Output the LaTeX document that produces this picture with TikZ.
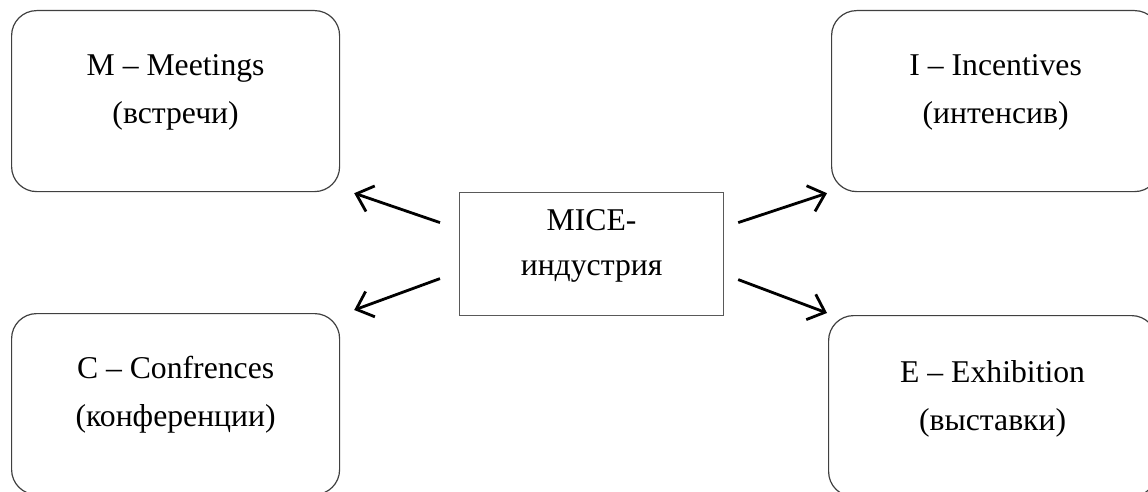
\documentclass[tikz,border=0pt]{standalone}
\usepackage{fontspec}
\setmainfont{Liberation Serif}
\usetikzlibrary{arrows.meta,calc}
\begin{document}
\begin{tikzpicture}[x=1pt,y=-1pt,
  rbox/.style={draw=black!75, line width=1.2pt, rounded corners=25pt, inner sep=0pt,
    minimum width=328pt, align=center, anchor=north west,
    font=\fontsize{31.7}{48}\selectfont},
  cbox/.style={draw=black!65, line width=1.2pt, inner sep=0pt,
    minimum width=264pt, align=center, anchor=north west,
    font=\fontsize{31.7}{45}\selectfont},
  arr/.style={line width=2.8pt, -{Straight Barb[length=15pt,width=27pt,line width=2.8pt]}}]
\useasboundingbox (0,0) rectangle (1148,492);
\clip (0,0) rectangle (1148,492);
\node[rbox] (m) at (11,10) {\rule{0pt}{65pt}M – Meetings\\(встречи)\rule[-68pt]{0pt}{68pt}};
\node[rbox] (i) at (831,10) {\rule{0pt}{65pt}I – Incentives\\(интенсив)\rule[-68pt]{0pt}{68pt}};
\node[rbox] (cf) at (11,313) {\rule{0pt}{65pt}C – Confrences\\(конференции)\rule[-68pt]{0pt}{68pt}};
\node[rbox] (e) at (828,315) {\rule{0pt}{67pt}E – Exhibition\\(выставки)\rule[-66pt]{0pt}{66pt}};
\node[cbox] (c) at (459,192) {\rule{0pt}{38pt}MICE-\\индустрия\rule[-40pt]{0pt}{40pt}};
\coordinate (t1) at ($(c.west)+(-19,-31.5)$);
\coordinate (t2) at ($(c.west)+(-19,24.5)$);
\coordinate (t3) at ($(c.east)+(14,-31.5)$);
\coordinate (t4) at ($(c.east)+(14,25.5)$);
\coordinate (h1) at ($(m.south east)+(14,1)$);
\coordinate (h2) at ($(cf.north east)+(14,-3)$);
\coordinate (h3) at ($(i.south west)+(-4,1)$);
\coordinate (h4) at ($(e.north west)+(-1,-2)$);
\draw[arr] (t1) -- (h1);
\draw[arr] (t2) -- (h2);
\draw[arr] (t3) -- (h3);
\draw[arr] (t4) -- (h4);
\end{tikzpicture}
\end{document}
